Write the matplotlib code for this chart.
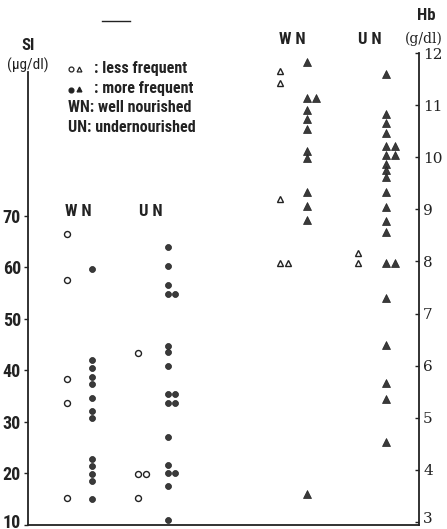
import matplotlib.pyplot as plt
from matplotlib.lines import Line2D
from matplotlib.transforms import ScaledTranslation

# serum iron (ug/dl), left half of the chart
si_wn_less = [66.4, 57.6, 38.3, 33.6, 15.2]
si_wn_more = [59.6, 42.0, 40.4, 38.8, 37.4, 34.6, 32.2, 30.7, 22.9, 21.5, 19.9, 18.6, 15.0]
si_un_less = [43.3, 19.9, 19.9, 15.2]
si_un_more = [63.9, 60.3, 56.5, 54.9, 54.9, 44.8, 43.5, 40.9, 35.4, 35.4, 33.7, 33.7,
              27.0, 21.7, 20.0, 20.0, 17.6, 11.0]

# haemoglobin (g/dl), right half of the chart
hb_wn_less = [11.66, 11.42, 9.2, 7.97, 7.97]
hb_wn_more = [11.83, 11.13, 11.13, 10.91, 10.73, 10.54, 10.13, 9.98, 9.34, 9.07, 8.80, 3.53]
hb_un_less = [8.16, 7.97]
hb_un_more = [11.6, 10.84, 10.65, 10.47, 10.22, 10.22, 10.04, 10.04, 9.88, 9.76, 9.62,
              9.33, 9.04, 8.78, 8.56, 7.98, 7.98, 7.29, 6.4, 5.66, 5.36, 4.53]

si_ticks = [10, 20, 30, 40, 50, 60, 70]
hb_ticks = [3, 4, 5, 6, 7, 8, 9, 10, 11, 12]

W, H = 447, 529
fig = plt.figure(figsize=(W / 100, H / 100), dpi=100)
ax = fig.add_axes([28 / W, 1 - 525 / H, (419 - 28) / W, (525 - 50) / H])
ax2 = ax.twinx()

ax.set_xlim(0, 391)
ax.set_ylim(10, 102.2)
ax2.set_ylim(2.94, 12.06)

INK = '#222222'
NARROW = ['Roboto Condensed', 'Roboto', 'DejaVu Sans']
cond = dict(family=NARROW, weight='bold')


def column(a, vals, x, marker, filled, size, dx=8):
    seen = {}
    xs = []
    for v in vals:
        k = seen.get(v, 0)
        seen[v] = k + 1
        xs.append(x + k * dx)
    a.plot(xs, vals, linestyle='none', marker=marker, markersize=size,
           markerfacecolor='#3a3a3a' if filled else 'white',
           markeredgecolor=INK, markeredgewidth=1.0 if not filled else 0.5,
           clip_on=False, zorder=3)


column(ax, si_wn_less, 39, 'o', False, 4.3)
column(ax, si_wn_more, 64, 'o', True, 4.3)
column(ax, si_un_less, 110, 'o', False, 4.3, dx=8)
column(ax, si_un_more, 140, 'o', True, 4.3, dx=7)

column(ax2, hb_wn_less, 252, '^', False, 4.5)
column(ax2, hb_wn_more, 279, '^', True, 5.5, dx=9)
column(ax2, hb_un_less, 330, '^', False, 4.5)
column(ax2, hb_un_more, 358, '^', True, 5.5, dx=9)

# spines
for a in (ax, ax2):
    a.spines['top'].set_visible(False)
    for s in a.spines.values():
        s.set_color(INK)
        s.set_linewidth(1.3)
ax.spines['right'].set_visible(False)
ax2.spines['left'].set_visible(False)
ax2.spines['bottom'].set_visible(False)
ax.spines['left'].set_bounds(10, 98)
ax2.spines['right'].set_bounds(2.94, 12)

ax.set_xticks([])
ax.set_yticks(si_ticks)
ax.set_yticklabels([str(t) for t in si_ticks], fontsize=13, color=INK, **cond)
ax.tick_params(axis='y', length=3, width=1, pad=2, colors=INK)

ax2.set_yticks(hb_ticks)
ax2.set_yticklabels([str(t) for t in hb_ticks], family='DejaVu Serif', fontsize=11, color=INK)
ax2.tick_params(axis='y', direction='in', length=3, width=1, pad=3, colors=INK)

# lift the lowest labels a little so they stay inside the picture
lift = ScaledTranslation(0, 4 / 100, fig.dpi_scale_trans)
for lab in (ax.get_yticklabels()[0], ax2.get_yticklabels()[0]):
    lab.set_transform(lab.get_transform() + lift)


def ftext(x, y, s, size=10, ha='center', **kw):
    fig.text(x / W, 1 - y / H, s, ha=ha, va='center', fontsize=size, color=INK, **kw)


# axis titles
ftext(28, 45, 'SI', 12, **cond)
ftext(28, 65, '(μg/dl)', 11, family=NARROW)
ftext(426, 16, 'Hb', 12, **cond)
ftext(424, 39, '(g/dl)', 10, family='DejaVu Serif')

# group labels
ftext(78, 212, 'W N', 12, **cond)
ftext(151, 212, 'U N', 12, **cond)
ftext(292, 39, 'W N', 12, **cond)
ftext(370, 39, 'U N', 12, **cond)

# key
ftext(94, 68, ': less frequent', 11.5, ha='left', **cond)
ftext(94, 89, ': more frequent', 11.5, ha='left', **cond)
ftext(68, 108, 'WN: well nourished', 11.5, ha='left', **cond)
ftext(68, 128, 'UN: undernourished', 11.5, ha='left', **cond)
key = [(71, 69, 'o', False), (79, 69, '^', False), (71, 90, 'o', True), (79, 89, '^', True)]
for kx, ky, m, f in key:
    fig.add_artist(Line2D([kx / W], [1 - ky / H], marker=m, markersize=3.5,
                          markerfacecolor=INK if f else 'white',
                          markeredgecolor=INK, markeredgewidth=0.9,
                          transform=fig.transFigure))

# short dash at the top
fig.add_artist(Line2D([102 / W, 130 / W], [1 - 21 / H, 1 - 21 / H], color=INK,
                      linewidth=1.0, transform=fig.transFigure))

fig.savefig('out.png', dpi=100)
